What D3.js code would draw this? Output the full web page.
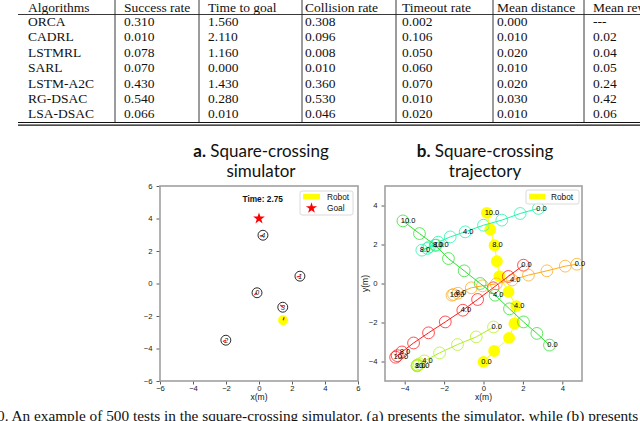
<!DOCTYPE html>
<html><head><meta charset="utf-8">
<script src="https://cdn.jsdelivr.net/npm/d3@7"></script>
<style>body{margin:0;background:#fff} svg{display:block}</style>
</head><body><svg id="c" width="640" height="421"></svg>
<script>
// ---------- table data ----------
const tableHeaders = ["Algorithms","Success rate","Time to goal","Collision rate","Timeout rate","Mean distance","Mean rew"];
const algorithms = ["ORCA","CADRL","LSTMRL","SARL","LSTM-A2C","RG-DSAC","LSA-DSAC"];
const successRate = ["0.310","0.010","0.078","0.070","0.430","0.540","0.066"];
const timeToGoal = ["1.560","2.110","1.160","0.000","1.430","0.280","0.010"];
const collisionRate = ["0.308","0.096","0.008","0.010","0.360","0.530","0.046"];
const timeoutRate = ["0.002","0.106","0.050","0.060","0.070","0.010","0.020"];
const meanDistance = ["0.000","0.010","0.020","0.010","0.020","0.030","0.010"];
const meanReward = ["---","0.02","0.04","0.05","0.24","0.42","0.06"];

// ---------- (a) simulator snapshot ----------
const simTicks = [-6,-4,-2,0,2,4,6];
const simTime = "Time: 2.75";
const simHumanIds = [0,1,2,3,4];
const simHumanX = [-0.12, 2.48, -2.01, 1.44, 0.24];
const simHumanY = [-0.57, 0.45, -3.49, -1.46, 2.97];
const simRobot = [1.46, -2.26];
const simGoal = [0, 4];
const agentRadius = 0.3;

// ---------- (b) trajectories ----------
const trajTicks = [-4,-2,0,2,4];
const trajTimes = [0,1,2,3,4,5,6,7,8,9,10];
const labelTimes = [0,4,8,10];
const robotTraj = [[0,-4.02],[0.54,-3.46],[1.30,-2.79],[1.57,-2.05],[1.66,-1.16],[1.27,-0.43],[0.81,0.37],[0.68,1.14],[0.56,1.96],[0.34,2.77],[0.17,3.62]];
const human0Traj = [[2.03,0.94],[1.26,0.36],[0.49,-0.22],[-0.30,-0.82],[-1.05,-1.37],[-1.94,-1.97],[-2.79,-2.53],[-3.55,-3.05],[-4.14,-3.51],[-4.38,-3.70],[-4.46,-3.78]];
const human1Traj = [[4.74,0.99],[4.15,0.89],[3.22,0.65],[2.28,0.43],[1.45,0.18],[0.65,-0.02],[-0.05,-0.12],[-0.62,-0.22],[-1.30,-0.50],[-1.52,-0.56],[-1.60,-0.60]];
const human2Traj = [[0.51,-2.23],[-0.37,-2.74],[-1.32,-3.13],[-2.23,-3.56],[-3.00,-3.97],[-3.25,-4.12],[-3.33,-4.18],[-3.36,-4.20],[-3.37,-4.21],[-3.37,-4.22],[-3.37,-4.22]];
const human3Traj = [[3.35,-3.16],[2.71,-2.56],[2.03,-1.97],[1.32,-1.30],[0.59,-0.60],[-0.17,0.00],[-0.98,0.65],[-1.78,1.28],[-2.45,1.96],[-3.25,2.56],[-4.09,3.21]];
const human4Traj = [[2.79,3.85],[1.86,3.59],[0.93,3.25],[0.00,2.99],[-0.93,2.65],[-1.69,2.39],[-2.30,2.12],[-2.75,1.88],[-3.13,1.71],[-2.85,1.80],[-2.40,1.97]];
const humanColors = ["#ff1a1a","#ffab1a","#b0f020","#2ee02e","#20f5a8"];
const robotColor = "#ffff00";

const caption = "0. An example of 500 tests in the square-crossing simulator. (a) presents the simulator, while (b) presents";

// ---------- drawing ----------
const svg = d3.select("#c");
const serif = "'Liberation Serif','Times New Roman',serif";
const sans = "'Liberation Sans',Arial,sans-serif";

// table
const colX = [28,124,208,305,402,497,593];
const vLines = [115,199,302,396,493,584];
const columns = [algorithms, successRate, timeToGoal, collisionRate, timeoutRate, meanDistance, meanReward];
const rowY = d3.scaleLinear().domain([0,1]).range([26, 41.4]);
const tbl = svg.append("g").attr("font-family", serif).attr("font-size", 13.5).attr("fill", "#111");
tableHeaders.forEach((h,j) => tbl.append("text").attr("x", colX[j]).attr("y", 12).text(h));
columns.forEach((col,j) => col.forEach((v,i) => tbl.append("text").attr("x", colX[j]).attr("y", rowY(i)).text(v)));
vLines.forEach(x => tbl.append("line").attr("x1", x).attr("x2", x).attr("y1", 0).attr("y2", 122.5).attr("stroke", "#222").attr("stroke-width", 0.9));
tbl.append("line").attr("x1", 18).attr("x2", 640).attr("y1", 14.5).attr("y2", 14.5).attr("stroke", "#222").attr("stroke-width", 0.9);
tbl.append("line").attr("x1", 18).attr("x2", 640).attr("y1", 122.5).attr("y2", 122.5).attr("stroke", "#111").attr("stroke-width", 1);
tbl.append("line").attr("x1", 18).attr("x2", 640).attr("y1", 125.2).attr("y2", 125.2).attr("stroke", "#111").attr("stroke-width", 1.2);

const fmt = d => d < 0 ? "\u2212" + Math.abs(d) : String(d);
function drawAxes(g, x, y, tx, ty) {
  const [x0,x1] = x.range(), [y0,y1] = y.range();
  const gx = g.append("g").attr("transform", `translate(0,${y0})`)
    .call(d3.axisBottom(x).tickValues(tx).tickSize(3.5).tickPadding(1.5).tickFormat(fmt));
  const gy = g.append("g").attr("transform", `translate(${x0},0)`)
    .call(d3.axisLeft(y).tickValues(ty).tickSize(3.5).tickPadding(4).tickFormat(fmt));
  [gx,gy].forEach(a => {
    a.select(".domain").remove();
    a.selectAll("text").attr("font-family", sans).attr("font-size", 7.7).attr("fill", "#222");
    a.selectAll("line").attr("stroke", "#333").attr("stroke-width", 0.8);
  });
  g.append("rect").attr("x", x0).attr("y", y1).attr("width", x1 - x0).attr("height", y0 - y1)
    .attr("fill", "none").attr("stroke", "#a0a0a0").attr("stroke-width", 1.6);
}
function title(cx, bold, rest, line2) {
  const t = svg.append("text").attr("font-family", "Lato,'Open Sans',sans-serif").attr("font-size", 17)
    .attr("fill", "#111").attr("text-anchor", "middle");
  const a = t.append("tspan").attr("x", cx).attr("y", 156.5);
  a.append("tspan").attr("font-weight", "bold").text(bold);
  a.append("tspan").text(rest);
  t.append("tspan").attr("x", cx).attr("y", 176.5).text(line2);
}
function legendBox(x, y, w, h) {
  svg.append("rect").attr("x", x).attr("y", y).attr("width", w).attr("height", h).attr("rx", 2)
    .attr("fill", "#fff").attr("fill-opacity", 0.85).attr("stroke", "#d0d0d0").attr("stroke-width", 0.8);
}

// ----- (a)
title(261, "a.", " Square-crossing", "simulator");
const sx = d3.scaleLinear().domain([-6,6]).range([160,358]);
const sy = d3.scaleLinear().domain([-6,6]).range([381,186]);
const ga = svg.append("g");
drawAxes(ga, sx, sy, simTicks, simTicks);
const pxA = sx(agentRadius) - sx(0);
const trajs = [human0Traj, human1Traj, human2Traj, human3Traj, human4Traj];
function heading(tr) { const a = tr[2], b = tr[3]; return Math.atan2(b[1]-a[1], b[0]-a[0]); }
// robot
ga.append("circle").attr("cx", sx(simRobot[0])).attr("cy", sy(simRobot[1])).attr("r", pxA).attr("fill", robotColor);
{ const h = heading(robotTraj);
  ga.append("line").attr("x1", sx(simRobot[0])).attr("y1", sy(simRobot[1]))
    .attr("x2", sx(simRobot[0] + 0.2*Math.cos(h))).attr("y2", sy(simRobot[1] + 0.2*Math.sin(h)))
    .attr("stroke", "red").attr("stroke-width", 1.2); }
simHumanIds.forEach((id,i) => {
  const cx = sx(simHumanX[i]), cy = sy(simHumanY[i]);
  ga.append("circle").attr("cx", cx).attr("cy", cy).attr("r", pxA).attr("fill", "none").attr("stroke", "#111").attr("stroke-width", 0.9);
  const h = heading(trajs[i]);
  ga.append("line").attr("x1", cx).attr("y1", cy)
    .attr("x2", sx(simHumanX[i] + 0.2*Math.cos(h))).attr("y2", sy(simHumanY[i] + 0.2*Math.sin(h)))
    .attr("stroke", "red").attr("stroke-width", 1.1);
  ga.append("text").attr("x", cx + 0.3).attr("y", cy + 2.5).attr("text-anchor", "middle")
    .attr("font-family", sans).attr("font-size", 7).attr("font-style", "italic").attr("fill", "#111").text(id);
});
ga.append("path").attr("d", d3.symbol().type(d3.symbolStar).size(42)())
  .attr("transform", `translate(${sx(simGoal[0])},${sy(simGoal[1])})`).attr("fill", "red");
ga.append("text").attr("x", sx(-1)).attr("y", sy(5)).attr("font-family", sans).attr("font-size", 8.3)
  .attr("font-weight", "bold").attr("fill", "#111").text(simTime);
legendBox(300, 191, 53, 24);
svg.append("rect").attr("x", 303).attr("y", 194).attr("width", 17).attr("height", 5.5).attr("fill", robotColor);
svg.append("path").attr("d", d3.symbol().type(d3.symbolStar).size(38)()).attr("transform", "translate(311.5,208)").attr("fill", "red");
svg.append("text").attr("x", 327).attr("y", 200).attr("font-family", sans).attr("font-size", 8.3).attr("fill", "#111").text("Robot");
svg.append("text").attr("x", 327).attr("y", 211).attr("font-family", sans).attr("font-size", 8.3).attr("fill", "#111").text("Goal");
svg.append("text").attr("x", sx(0)).attr("y", 399.5).attr("text-anchor", "middle").attr("font-family", sans).attr("font-size", 8.5).attr("fill", "#111").text("x(m)");

// ----- (b)
title(485, "b.", " Square-crossing", "trajectory");
const tx = d3.scaleLinear().domain([-5,5]).range([385,582]);
const ty = d3.scaleLinear().domain([-5,5]).range([381,186]);
const gb = svg.append("g");
drawAxes(gb, tx, ty, trajTicks, trajTicks);
const pxB = tx(agentRadius) - tx(0);
const line = d3.line().x(d => tx(d[0])).y(d => ty(d[1]));
// circles
gb.selectAll("circle.r").data(robotTraj).join("circle").attr("class", "r")
  .attr("cx", d => tx(d[0])).attr("cy", d => ty(d[1])).attr("r", pxB).attr("fill", robotColor);
trajs.forEach((tr,i) => {
  gb.selectAll("circle.h" + i).data(tr).join("circle").attr("class", "h" + i)
    .attr("cx", d => tx(d[0])).attr("cy", d => ty(d[1])).attr("r", pxB)
    .attr("fill", "none").attr("stroke", humanColors[i]).attr("stroke-width", 0.9).attr("stroke-opacity", 0.85);
});
// lines
gb.append("path").attr("d", line(robotTraj)).attr("fill", "none").attr("stroke", robotColor).attr("stroke-width", 1);
trajs.forEach((tr,i) => gb.append("path").attr("d", line(tr)).attr("fill", "none").attr("stroke", humanColors[i]).attr("stroke-width", 1));
// time labels
[robotTraj, ...trajs].forEach(tr => {
  trajTimes.forEach((t,k) => {
    if (!labelTimes.includes(t)) return;
    gb.append("text").attr("x", tx(tr[k][0] - 0.11)).attr("y", ty(tr[k][1] - 0.11))
      .attr("font-family", sans).attr("font-size", 7.5).attr("fill", "#000").text(t.toFixed(1));
  });
});
legendBox(526, 190, 53, 14);
svg.append("rect").attr("x", 529).attr("y", 193.8).attr("width", 16).attr("height", 5.5).attr("fill", robotColor);
svg.append("text").attr("x", 551).attr("y", 200).attr("font-family", sans).attr("font-size", 8.3).attr("fill", "#111").text("Robot");
svg.append("text").attr("x", tx(0)).attr("y", 399.5).attr("text-anchor", "middle").attr("font-family", sans).attr("font-size", 8.5).attr("fill", "#111").text("x(m)");
svg.append("text").attr("transform", `translate(367.5,${ty(0)}) rotate(-90)`).attr("text-anchor", "middle")
  .attr("font-family", sans).attr("font-size", 8.5).attr("fill", "#111").text("y(m)");

// caption
svg.append("text").attr("x", -3).attr("y", 420.8).attr("font-family", serif).attr("font-size", 15.3).attr("fill", "#111").text(caption);
</script>
</body></html>
